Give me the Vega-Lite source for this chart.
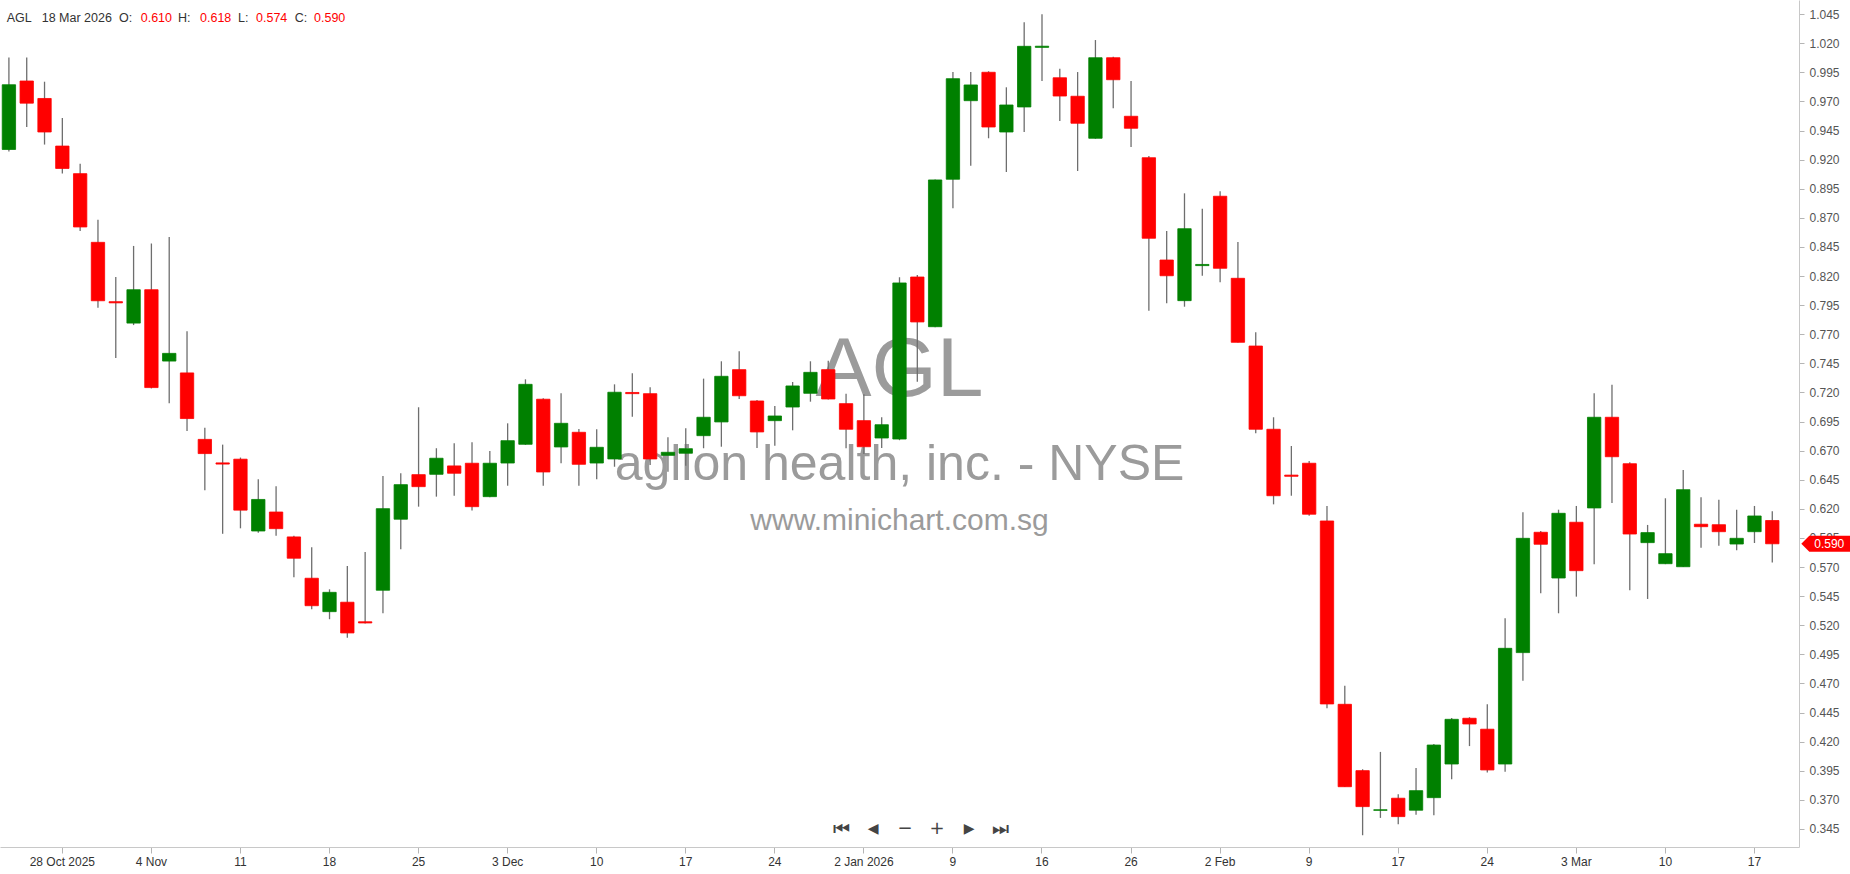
{
  "$schema": "https://vega.github.io/schema/vega-lite/v6.json",
  "width": 1799,
  "height": 847,
  "autosize": {"type": "none"},
  "padding": {"left": 0, "top": 0, "right": 51, "bottom": 27},
  "background": "white",
  "config": {
    "view": {"stroke": null},
    "axisX": {"labelFont": "Liberation Sans", "labelFontSize": 12, "labelColor": "#333333", "tickColor": "#b5b5b5", "tickSize": 6, "domainColor": "#c8c8c8", "labelPadding": 3, "grid": false, "labelAngle": 0, "labelOverlap": false},
    "axisY": {"labelFont": "Liberation Sans", "labelFontSize": 12, "labelColor": "#555555", "tickColor": "#b5b5b5", "tickSize": 5, "domainColor": "#c8c8c8", "labelPadding": 5, "grid": false, "labelOverlap": false}
  },
  "data": {"values": [
    {"d":"2025-10-23","o":0.9288,"h":1.0078,"l":0.927,"c":0.9844},
    {"d":"2025-10-24","o":0.9876,"h":1.0078,"l":0.948,"c":0.9686},
    {"d":"2025-10-27","o":0.9726,"h":0.987,"l":0.933,"c":0.9438},
    {"d":"2025-10-28","o":0.9317,"h":0.9559,"l":0.9082,"c":0.9125},
    {"d":"2025-10-29","o":0.908,"h":0.9165,"l":0.8588,"c":0.8622},
    {"d":"2025-10-30","o":0.849,"h":0.8684,"l":0.7927,"c":0.7988},
    {"d":"2025-10-31","o":0.798,"h":0.8193,"l":0.7497,"c":0.797},
    {"d":"2025-11-03","o":0.7796,"h":0.8459,"l":0.7779,"c":0.8083},
    {"d":"2025-11-04","o":0.8083,"h":0.848,"l":0.7235,"c":0.7242},
    {"d":"2025-11-05","o":0.747,"h":0.8535,"l":0.7107,"c":0.7536},
    {"d":"2025-11-06","o":0.7368,"h":0.7725,"l":0.6868,"c":0.6976},
    {"d":"2025-11-07","o":0.6797,"h":0.6896,"l":0.6359,"c":0.6675},
    {"d":"2025-11-10","o":0.6595,"h":0.6752,"l":0.5986,"c":0.6585},
    {"d":"2025-11-11","o":0.6627,"h":0.6641,"l":0.6033,"c":0.6189},
    {"d":"2025-11-12","o":0.601,"h":0.6454,"l":0.5995,"c":0.6281},
    {"d":"2025-11-13","o":0.6173,"h":0.6394,"l":0.5969,"c":0.603},
    {"d":"2025-11-14","o":0.5959,"h":0.597,"l":0.5613,"c":0.5776},
    {"d":"2025-11-17","o":0.5604,"h":0.587,"l":0.5337,"c":0.5368},
    {"d":"2025-11-18","o":0.5317,"h":0.5509,"l":0.5252,"c":0.5483},
    {"d":"2025-11-19","o":0.5398,"h":0.5709,"l":0.5093,"c":0.5134},
    {"d":"2025-11-20","o":0.523,"h":0.583,"l":0.5215,"c":0.522},
    {"d":"2025-11-21","o":0.5501,"h":0.6483,"l":0.5303,"c":0.6202},
    {"d":"2025-11-24","o":0.6111,"h":0.6506,"l":0.5853,"c":0.6408},
    {"d":"2025-11-25","o":0.6494,"h":0.7073,"l":0.6219,"c":0.6391},
    {"d":"2025-11-26","o":0.6497,"h":0.6721,"l":0.6305,"c":0.6635},
    {"d":"2025-11-28","o":0.6569,"h":0.6764,"l":0.6313,"c":0.6506},
    {"d":"2025-12-01","o":0.6592,"h":0.6772,"l":0.6185,"c":0.6219},
    {"d":"2025-12-02","o":0.6305,"h":0.6697,"l":0.63,"c":0.6592},
    {"d":"2025-12-03","o":0.6594,"h":0.6935,"l":0.6399,"c":0.6786},
    {"d":"2025-12-04","o":0.6755,"h":0.7313,"l":0.675,"c":0.727},
    {"d":"2025-12-05","o":0.7142,"h":0.715,"l":0.6399,"c":0.6517},
    {"d":"2025-12-08","o":0.6732,"h":0.7193,"l":0.6592,"c":0.6935},
    {"d":"2025-12-09","o":0.6858,"h":0.6886,"l":0.6399,"c":0.6583},
    {"d":"2025-12-10","o":0.6594,"h":0.6884,"l":0.6454,"c":0.6729},
    {"d":"2025-12-11","o":0.6629,"h":0.727,"l":0.6562,"c":0.7202},
    {"d":"2025-12-12","o":0.72,"h":0.7365,"l":0.6992,"c":0.719},
    {"d":"2025-12-15","o":0.719,"h":0.7245,"l":0.6577,"c":0.6629},
    {"d":"2025-12-16","o":0.666,"h":0.6815,"l":0.652,"c":0.6686},
    {"d":"2025-12-17","o":0.6678,"h":0.6892,"l":0.6571,"c":0.6717},
    {"d":"2025-12-18","o":0.6829,"h":0.7319,"l":0.6721,"c":0.6987},
    {"d":"2025-12-19","o":0.6947,"h":0.7468,"l":0.6734,"c":0.7339},
    {"d":"2025-12-22","o":0.7396,"h":0.7554,"l":0.7144,"c":0.7172},
    {"d":"2025-12-23","o":0.7127,"h":0.7136,"l":0.6723,"c":0.6861},
    {"d":"2025-12-24","o":0.6958,"h":0.7084,"l":0.6743,"c":0.6998},
    {"d":"2025-12-26","o":0.7075,"h":0.729,"l":0.6875,"c":0.7256},
    {"d":"2025-12-29","o":0.7193,"h":0.7468,"l":0.7121,"c":0.7373},
    {"d":"2025-12-30","o":0.7396,"h":0.7473,"l":0.714,"c":0.7144},
    {"d":"2025-12-31","o":0.7104,"h":0.719,"l":0.6721,"c":0.6884},
    {"d":"2026-01-02","o":0.6958,"h":0.7184,"l":0.6672,"c":0.6734},
    {"d":"2026-01-05","o":0.6809,"h":0.6987,"l":0.6723,"c":0.6923},
    {"d":"2026-01-06","o":0.68,"h":0.819,"l":0.679,"c":0.8141},
    {"d":"2026-01-07","o":0.8192,"h":0.821,"l":0.7293,"c":0.7806},
    {"d":"2026-01-08","o":0.7765,"h":0.903,"l":0.776,"c":0.9026},
    {"d":"2026-01-09","o":0.9032,"h":0.9953,"l":0.8782,"c":0.9896},
    {"d":"2026-01-12","o":0.9707,"h":0.9953,"l":0.9148,"c":0.9842},
    {"d":"2026-01-13","o":0.9951,"h":0.996,"l":0.9384,"c":0.9481},
    {"d":"2026-01-14","o":0.9438,"h":0.9822,"l":0.9094,"c":0.967},
    {"d":"2026-01-15","o":0.9653,"h":1.038,"l":0.9438,"c":1.0174},
    {"d":"2026-01-16","o":1.0165,"h":1.045,"l":0.9876,"c":1.0175},
    {"d":"2026-01-20","o":0.9904,"h":0.9982,"l":0.9532,"c":0.9747},
    {"d":"2026-01-21","o":0.9745,"h":0.9953,"l":0.9103,"c":0.9513},
    {"d":"2026-01-22","o":0.9384,"h":1.0228,"l":0.938,"c":1.0076},
    {"d":"2026-01-23","o":1.0076,"h":1.0085,"l":0.9642,"c":0.9887},
    {"d":"2026-01-26","o":0.9573,"h":0.9876,"l":0.9309,"c":0.947},
    {"d":"2026-01-27","o":0.9217,"h":0.9232,"l":0.7903,"c":0.8525},
    {"d":"2026-01-28","o":0.8338,"h":0.8587,"l":0.7966,"c":0.8203},
    {"d":"2026-01-29","o":0.7989,"h":0.8911,"l":0.7937,"c":0.8607},
    {"d":"2026-01-30","o":0.829,"h":0.8779,"l":0.8203,"c":0.83},
    {"d":"2026-02-02","o":0.8886,"h":0.8929,"l":0.8147,"c":0.8267},
    {"d":"2026-02-03","o":0.8181,"h":0.8493,"l":0.763,"c":0.7631},
    {"d":"2026-02-04","o":0.7599,"h":0.7717,"l":0.6849,"c":0.6884},
    {"d":"2026-02-05","o":0.6884,"h":0.6987,"l":0.6239,"c":0.6313},
    {"d":"2026-02-06","o":0.649,"h":0.674,"l":0.6313,"c":0.648},
    {"d":"2026-02-09","o":0.6592,"h":0.6611,"l":0.6142,"c":0.6154},
    {"d":"2026-02-10","o":0.6096,"h":0.6225,"l":0.4487,"c":0.4524},
    {"d":"2026-02-11","o":0.4521,"h":0.4681,"l":0.381,"c":0.3813},
    {"d":"2026-02-12","o":0.3951,"h":0.3963,"l":0.3396,"c":0.3642},
    {"d":"2026-02-13","o":0.361,"h":0.4112,"l":0.3545,"c":0.3615},
    {"d":"2026-02-17","o":0.3714,"h":0.3748,"l":0.349,"c":0.3556},
    {"d":"2026-02-18","o":0.3611,"h":0.3974,"l":0.3573,"c":0.3779},
    {"d":"2026-02-19","o":0.3719,"h":0.418,"l":0.3568,"c":0.4171},
    {"d":"2026-02-20","o":0.4008,"h":0.4403,"l":0.3877,"c":0.4392},
    {"d":"2026-02-23","o":0.4401,"h":0.441,"l":0.4162,"c":0.4352},
    {"d":"2026-02-24","o":0.4307,"h":0.4521,"l":0.3934,"c":0.3957},
    {"d":"2026-02-25","o":0.4008,"h":0.526,"l":0.3942,"c":0.5002},
    {"d":"2026-02-26","o":0.4965,"h":0.6171,"l":0.4724,"c":0.5947},
    {"d":"2026-02-27","o":0.5999,"h":0.601,"l":0.5475,"c":0.5896},
    {"d":"2026-03-02","o":0.5606,"h":0.6193,"l":0.5303,"c":0.6162},
    {"d":"2026-03-03","o":0.6085,"h":0.6225,"l":0.5446,"c":0.5669},
    {"d":"2026-03-04","o":0.6208,"h":0.7193,"l":0.5724,"c":0.6987},
    {"d":"2026-03-05","o":0.6987,"h":0.7267,"l":0.6251,"c":0.6648},
    {"d":"2026-03-06","o":0.6588,"h":0.66,"l":0.5501,"c":0.5984},
    {"d":"2026-03-09","o":0.591,"h":0.6062,"l":0.5426,"c":0.5996},
    {"d":"2026-03-10","o":0.5729,"h":0.6291,"l":0.5725,"c":0.5815},
    {"d":"2026-03-11","o":0.5703,"h":0.6534,"l":0.57,"c":0.6365},
    {"d":"2026-03-12","o":0.6068,"h":0.63,"l":0.5867,"c":0.6047},
    {"d":"2026-03-13","o":0.6064,"h":0.6279,"l":0.5884,"c":0.6004},
    {"d":"2026-03-16","o":0.5898,"h":0.6193,"l":0.5844,"c":0.5947},
    {"d":"2026-03-17","o":0.6004,"h":0.6225,"l":0.5907,"c":0.6139},
    {"d":"2026-03-18","o":0.61,"h":0.618,"l":0.574,"c":0.59}
  ]},
  "layer": [
    {
      "data": {"values": [{}]},
      "mark": {"type": "text", "text": "AGL", "font": "Liberation Sans", "fontSize": 84, "color": "#9b9b9b", "align": "center", "baseline": "alphabetic"},
      "encoding": {
        "x": {"datum": "2026-01-06", "type": "ordinal", "title": null},
        "y": {"datum": 0.717, "type": "quantitative", "title": null, "axis": {"orient": "right", "title": null}}
      }
    },
    {
      "data": {"values": [{}]},
      "mark": {"type": "text", "text": "aglion health, inc. - NYSE", "font": "Liberation Sans", "fontSize": 50, "color": "#9b9b9b", "align": "center", "baseline": "alphabetic"},
      "encoding": {
        "x": {"datum": "2026-01-06", "type": "ordinal", "title": null},
        "y": {"datum": 0.6447, "type": "quantitative", "title": null, "axis": {"orient": "right", "title": null}}
      }
    },
    {
      "data": {"values": [{}]},
      "mark": {"type": "text", "text": "www.minichart.com.sg", "font": "Liberation Sans", "fontSize": 30, "color": "#9b9b9b", "align": "center", "baseline": "alphabetic"},
      "encoding": {
        "x": {"datum": "2026-01-06", "type": "ordinal", "title": null},
        "y": {"datum": 0.6019, "type": "quantitative", "title": null, "axis": {"orient": "right", "title": null}}
      }
    },
    {
      "mark": {"type": "rule", "color": "#6e6e6e", "strokeWidth": 1.3},
      "encoding": {
        "x": {
          "field": "d", "type": "ordinal", "title": null,
          "scale": {"paddingInner": 0, "paddingOuter": 0.5, "align": 0},
          "axis": {
            "title": null,
            "values": ["2025-10-28","2025-11-04","2025-11-11","2025-11-18","2025-11-25","2025-12-03","2025-12-10","2025-12-17","2025-12-24","2026-01-02","2026-01-09","2026-01-16","2026-01-26","2026-02-02","2026-02-09","2026-02-17","2026-02-24","2026-03-03","2026-03-10","2026-03-17"],
            "labelExpr": "datum.value=='2025-10-28'?'28 Oct 2025':datum.value=='2025-11-04'?'4 Nov':datum.value=='2025-12-03'?'3 Dec':datum.value=='2026-01-02'?'2 Jan 2026':datum.value=='2026-02-02'?'2 Feb':datum.value=='2026-03-03'?'3 Mar':''+toNumber(substring(datum.value,8,10))"
          }
        },
        "y": {
          "field": "l", "type": "quantitative", "title": null,
          "scale": {"domain": [0.3295, 1.0572], "zero": false, "nice": false},
          "axis": {
            "orient": "right", "title": null, "tickCount": 100,
            "values": [0.345,0.37,0.395,0.42,0.445,0.47,0.495,0.52,0.545,0.57,0.595,0.62,0.645,0.67,0.695,0.72,0.745,0.77,0.795,0.82,0.845,0.87,0.895,0.92,0.945,0.97,0.995,1.02,1.045],
            "format": ".3f"
          }
        },
        "y2": {"field": "h"}
      }
    },
    {
      "mark": {"type": "bar", "width": {"band": 0.75}, "strokeWidth": 0.8},
      "encoding": {
        "x": {"field": "d", "type": "ordinal", "title": null},
        "y": {"field": "o", "type": "quantitative", "title": null, "axis": {"orient": "right", "title": null}},
        "y2": {"field": "c"},
        "color": {"condition": {"test": "datum.c >= datum.o", "value": "#008000"}, "value": "#ff0000"},
        "stroke": {"condition": {"test": "datum.c >= datum.o", "value": "#008000"}, "value": "#ff0000"}
      }
    },
    {
      "data": {"values": [{}]},
      "mark": {"type": "text", "text": "AGL", "font": "Liberation Sans", "fontSize": 12.5, "color": "#333333", "align": "left", "baseline": "middle", "dx": -2.2},
      "encoding": {"x": {"datum": "2025-10-23", "type": "ordinal", "title": null}, "y": {"datum": 1.0415, "type": "quantitative", "title": null, "axis": {"orient": "right", "title": null}}}
    },
    {
      "data": {"values": [{}]},
      "mark": {"type": "text", "text": "18 Mar 2026", "font": "Liberation Sans", "fontSize": 12.5, "color": "#333333", "align": "left", "baseline": "middle", "dx": 32.8},
      "encoding": {"x": {"datum": "2025-10-23", "type": "ordinal", "title": null}, "y": {"datum": 1.0415, "type": "quantitative", "title": null, "axis": {"orient": "right", "title": null}}}
    },
    {
      "data": {"values": [{}]},
      "mark": {"type": "text", "text": "O:", "font": "Liberation Sans", "fontSize": 12.5, "color": "#333333", "align": "left", "baseline": "middle", "dx": 110.1},
      "encoding": {"x": {"datum": "2025-10-23", "type": "ordinal", "title": null}, "y": {"datum": 1.0415, "type": "quantitative", "title": null, "axis": {"orient": "right", "title": null}}}
    },
    {
      "data": {"values": [{}]},
      "mark": {"type": "text", "text": "H:", "font": "Liberation Sans", "fontSize": 12.5, "color": "#333333", "align": "left", "baseline": "middle", "dx": 169.1},
      "encoding": {"x": {"datum": "2025-10-23", "type": "ordinal", "title": null}, "y": {"datum": 1.0415, "type": "quantitative", "title": null, "axis": {"orient": "right", "title": null}}}
    },
    {
      "data": {"values": [{}]},
      "mark": {"type": "text", "text": "L:", "font": "Liberation Sans", "fontSize": 12.5, "color": "#333333", "align": "left", "baseline": "middle", "dx": 229.1},
      "encoding": {"x": {"datum": "2025-10-23", "type": "ordinal", "title": null}, "y": {"datum": 1.0415, "type": "quantitative", "title": null, "axis": {"orient": "right", "title": null}}}
    },
    {
      "data": {"values": [{}]},
      "mark": {"type": "text", "text": "C:", "font": "Liberation Sans", "fontSize": 12.5, "color": "#333333", "align": "left", "baseline": "middle", "dx": 285.8},
      "encoding": {"x": {"datum": "2025-10-23", "type": "ordinal", "title": null}, "y": {"datum": 1.0415, "type": "quantitative", "title": null, "axis": {"orient": "right", "title": null}}}
    },
    {
      "transform": [{"filter": "datum.d == '2026-03-18'"}],
      "mark": {"type": "text", "font": "Liberation Sans", "fontSize": 12.5, "color": "#ff0000", "align": "left", "baseline": "middle", "dx": 131.8},
      "encoding": {"x": {"datum": "2025-10-23", "type": "ordinal", "title": null}, "y": {"datum": 1.0415, "type": "quantitative", "title": null, "axis": {"orient": "right", "title": null}}, "text": {"field": "o", "type": "quantitative", "format": ".3f"}}
    },
    {
      "transform": [{"filter": "datum.d == '2026-03-18'"}],
      "mark": {"type": "text", "font": "Liberation Sans", "fontSize": 12.5, "color": "#ff0000", "align": "left", "baseline": "middle", "dx": 191.1},
      "encoding": {"x": {"datum": "2025-10-23", "type": "ordinal", "title": null}, "y": {"datum": 1.0415, "type": "quantitative", "title": null, "axis": {"orient": "right", "title": null}}, "text": {"field": "h", "type": "quantitative", "format": ".3f"}}
    },
    {
      "transform": [{"filter": "datum.d == '2026-03-18'"}],
      "mark": {"type": "text", "font": "Liberation Sans", "fontSize": 12.5, "color": "#ff0000", "align": "left", "baseline": "middle", "dx": 247.1},
      "encoding": {"x": {"datum": "2025-10-23", "type": "ordinal", "title": null}, "y": {"datum": 1.0415, "type": "quantitative", "title": null, "axis": {"orient": "right", "title": null}}, "text": {"field": "l", "type": "quantitative", "format": ".3f"}}
    },
    {
      "transform": [{"filter": "datum.d == '2026-03-18'"}],
      "mark": {"type": "text", "font": "Liberation Sans", "fontSize": 12.5, "color": "#ff0000", "align": "left", "baseline": "middle", "dx": 305.1},
      "encoding": {"x": {"datum": "2025-10-23", "type": "ordinal", "title": null}, "y": {"datum": 1.0415, "type": "quantitative", "title": null, "axis": {"orient": "right", "title": null}}, "text": {"field": "c", "type": "quantitative", "format": ".3f"}}
    },
    {
      "data": {"values": [{}]},
      "mark": {"type": "text", "text": "⏮", "font": "DejaVu Sans", "fontSize": 19, "color": "#444444", "align": "center", "baseline": "middle", "dx": -58.4},
      "encoding": {"x": {"datum": "2026-01-06", "type": "ordinal", "title": null}, "y": {"datum": 0.345, "type": "quantitative", "title": null, "axis": {"orient": "right", "title": null}}}
    },
    {
      "data": {"values": [{}]},
      "mark": {"type": "text", "text": "◀", "font": "DejaVu Sans", "fontSize": 14, "color": "#444444", "align": "center", "baseline": "middle", "dx": -26.4},
      "encoding": {"x": {"datum": "2026-01-06", "type": "ordinal", "title": null}, "y": {"datum": 0.345, "type": "quantitative", "title": null, "axis": {"orient": "right", "title": null}}}
    },
    {
      "data": {"values": [{}]},
      "mark": {"type": "text", "text": "−", "font": "DejaVu Sans", "fontSize": 18, "color": "#444444", "align": "center", "baseline": "middle", "dx": 5.6},
      "encoding": {"x": {"datum": "2026-01-06", "type": "ordinal", "title": null}, "y": {"datum": 0.345, "type": "quantitative", "title": null, "axis": {"orient": "right", "title": null}}}
    },
    {
      "data": {"values": [{}]},
      "mark": {"type": "text", "text": "+", "font": "DejaVu Sans", "fontSize": 18, "color": "#444444", "align": "center", "baseline": "middle", "dx": 37.6},
      "encoding": {"x": {"datum": "2026-01-06", "type": "ordinal", "title": null}, "y": {"datum": 0.345, "type": "quantitative", "title": null, "axis": {"orient": "right", "title": null}}}
    },
    {
      "data": {"values": [{}]},
      "mark": {"type": "text", "text": "▶", "font": "DejaVu Sans", "fontSize": 14, "color": "#444444", "align": "center", "baseline": "middle", "dx": 69.6},
      "encoding": {"x": {"datum": "2026-01-06", "type": "ordinal", "title": null}, "y": {"datum": 0.345, "type": "quantitative", "title": null, "axis": {"orient": "right", "title": null}}}
    },
    {
      "data": {"values": [{}]},
      "mark": {"type": "text", "text": "⏭", "font": "DejaVu Sans", "fontSize": 19, "color": "#444444", "align": "center", "baseline": "middle", "dx": 100.6},
      "encoding": {"x": {"datum": "2026-01-06", "type": "ordinal", "title": null}, "y": {"datum": 0.345, "type": "quantitative", "title": null, "axis": {"orient": "right", "title": null}}}
    },
    {
      "transform": [{"filter": "datum.d == '2026-03-18'"}],
      "mark": {"type": "point", "shape": "M29,0L37,-8L78,-8L78,8L37,8Z", "size": 4, "filled": true, "color": "#ff0000", "opacity": 1, "strokeWidth": 0},
      "encoding": {"x": {"field": "d", "type": "ordinal", "title": null}, "y": {"field": "c", "type": "quantitative", "title": null, "axis": {"orient": "right", "title": null}}}
    },
    {
      "transform": [{"filter": "datum.d == '2026-03-18'"}],
      "mark": {"type": "text", "font": "Liberation Sans", "fontSize": 12, "color": "#ffffff", "align": "center", "baseline": "middle", "dx": 57},
      "encoding": {"x": {"field": "d", "type": "ordinal", "title": null}, "y": {"field": "c", "type": "quantitative", "title": null, "axis": {"orient": "right", "title": null}}, "text": {"field": "c", "type": "quantitative", "format": ".3f"}}
    }
  ]
}
